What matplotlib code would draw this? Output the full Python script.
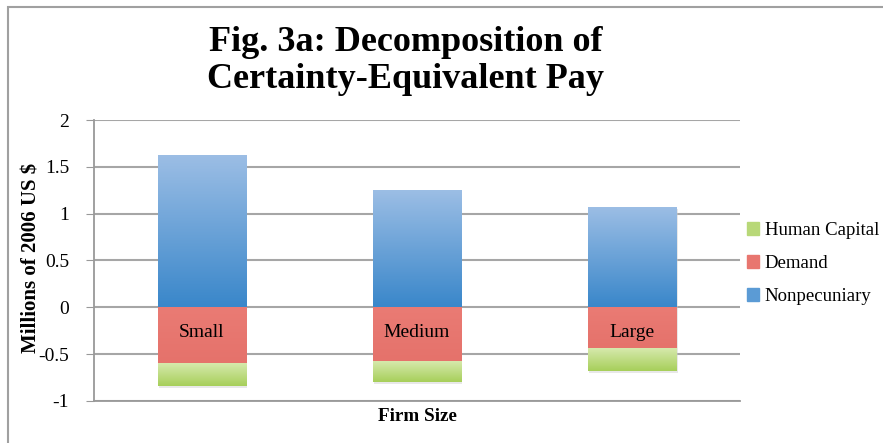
import matplotlib
matplotlib.use('Agg')
import matplotlib.pyplot as plt
import numpy as np
from matplotlib.colors import LinearSegmentedColormap
from matplotlib.patches import Patch, Rectangle

firmas = ['Small', 'Medium', 'Large']
nonpecuniary = [1.63, 1.25, 1.07]
demand = [-0.59, -0.57, -0.43]
human_capital = [-0.25, -0.23, -0.25]

plt.rcParams['font.family'] = ['Liberation Serif', 'DejaVu Serif']

fig = plt.figure(figsize=(8.83, 4.43), dpi=100)
ax = fig.add_axes([0.1065, 0.095, 0.7315, 0.634])

x = np.arange(len(firmas))
w = 0.41

def gradiente(barras, c_top, c_bot):
    cmap = LinearSegmentedColormap.from_list('g', [c_bot, c_top])
    for b in barras:
        x0, y0 = b.get_x(), b.get_y()
        bw, bh = b.get_width(), b.get_height()
        grad = np.linspace(0, 1, 100).reshape(-1, 1)
        ylo, yhi = min(y0, y0 + bh), max(y0, y0 + bh)
        im = ax.imshow(grad, cmap=cmap, origin='lower', aspect='auto',
                       extent=[x0, x0 + bw, ylo, yhi], zorder=3)
        im.set_clip_path(b)
        b.set_facecolor('none')

# sombra sutil
tot = [d + h for d, h in zip(demand, human_capital)]
for i in range(len(x)):
    ax.add_patch(Rectangle((x[i] - w / 2 + 0.005, tot[i] - 0.02), w, nonpecuniary[i] - tot[i],
                           color='#cccccc', alpha=0.45, zorder=2, lw=0))

b_np = ax.bar(x, nonpecuniary, w, color='#5b9bd5', zorder=3, lw=0)
b_dm = ax.bar(x, demand, w, color='#e8766f', zorder=3, lw=0)
b_hc = ax.bar(x, human_capital, w, bottom=demand, color='#b8d878', zorder=3, lw=0)
gradiente(b_np, '#9cbee5', '#3a87ca')
gradiente(b_dm, '#ea7b74', '#e5726b')
gradiente(b_hc, '#d8eab0', '#a7cf5a')

for i, f in enumerate(firmas):
    ax.text(x[i], -0.27, f, ha='center', va='center', fontsize=14, zorder=5)

ax.set_xlim(-0.5, 2.5)
ax.set_ylim(-1, 2)
ax.set_yticks([-1, -0.5, 0, 0.5, 1, 1.5, 2])
ax.set_yticklabels(['-1', '-0.5', '0', '0.5', '1', '1.5', '2'])
ax.set_xticks([])
ax.grid(axis='y', color='#a6a6a6', lw=1.5, zorder=0)
ax.set_axisbelow(True)
for s in ['top', 'right']:
    ax.spines[s].set_visible(False)
for s in ['left', 'bottom']:
    ax.spines[s].set_color('#999999')
    ax.spines[s].set_linewidth(1.3)
ax.tick_params(axis='y', length=6, color='#999999', labelsize=14, pad=12)

ax.set_ylabel('Millions of 2006 US $', fontsize=15, fontweight='bold')
ax.yaxis.set_label_coords(-0.082, 0.51)
ax.set_xlabel('Firm Size', fontsize=13.8, fontweight='bold', labelpad=5)

fig.text(0.459, 0.862, 'Fig. 3a: Decomposition of\nCertainty-Equivalent Pay',
         ha='center', va='center', fontsize=26, fontweight='bold', linespacing=1.15)

handles = [Patch(color='#b8d878'), Patch(color='#e8766f'), Patch(color='#5b9bd5')]
fig.legend(handles, ['Human Capital', 'Demand', 'Nonpecuniary'],
           loc='center left', bbox_to_anchor=(0.846, 0.405), frameon=False,
           fontsize=13.5, handlelength=0.65, handleheight=0.65, handletextpad=0.3,
           labelspacing=0.85, borderaxespad=0, borderpad=0)

# marco de la figura
fig.add_artist(Rectangle((0.009, -0.1), 1.2, 1.084, transform=fig.transFigure,
                         fill=False, ec='#a0a0a0', lw=1.5))

plt.savefig('out.png', dpi=100)
